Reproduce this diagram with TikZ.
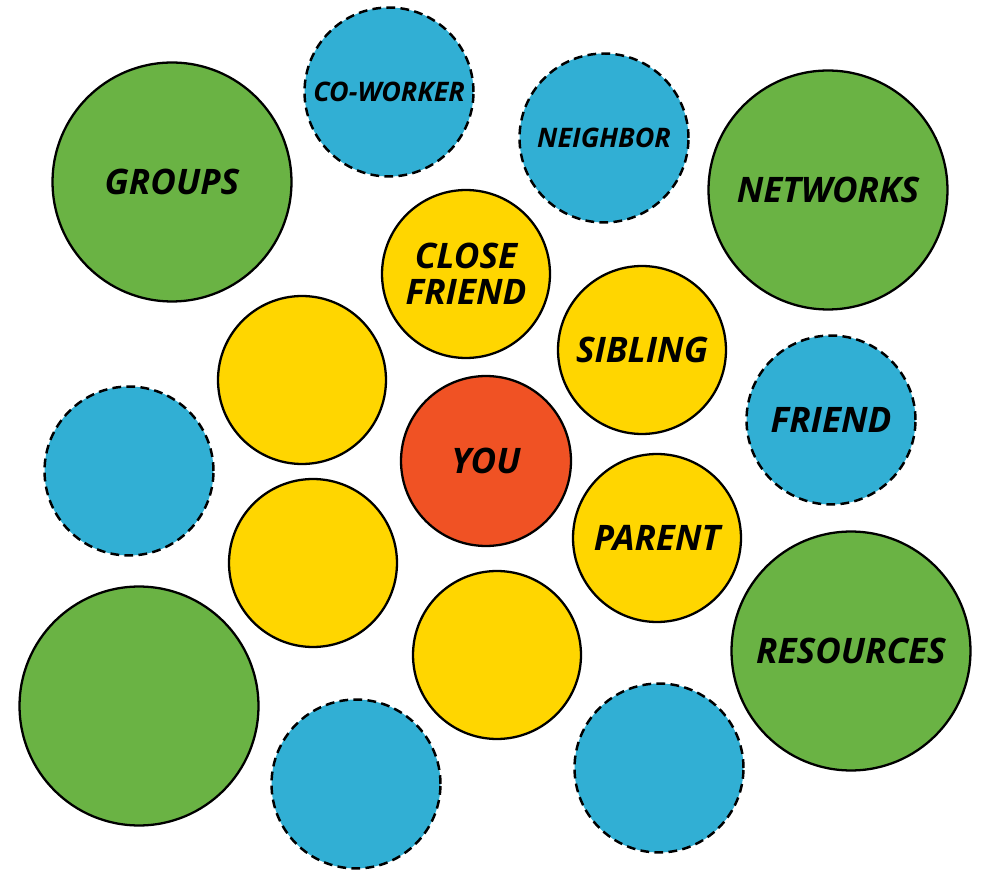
\documentclass[tikz,border=0pt]{standalone}
\usepackage{fontspec}
\setmainfont{Open Sans}
\usepackage{tikz}
\usepackage{xcolor}
\definecolor{youred}{HTML}{F05224}
\definecolor{closeyellow}{HTML}{FFD600}
\definecolor{groupgreen}{HTML}{6AB344}
\definecolor{outerblue}{HTML}{31AFD4}

\begin{document}
\begin{tikzpicture}[x=0.02cm,y=-0.02cm,
	circ/.style={circle, draw=black, line width=1.3pt, inner sep=0, align=center, font=\bfseries\itshape\fontsize{20}{20.5}\selectfont},
	you/.style={circ, fill=youred, minimum size=3.4cm},
	inner/.style={circ, fill=closeyellow, minimum size=3.36cm},
	group/.style={circ, fill=groupgreen, minimum size=4.78cm},
	outer/.style={circ, fill=outerblue, minimum size=3.38cm, line width=1.4pt, dash pattern=on 5pt off 3pt},
	small/.style={font=\bfseries\itshape\fontsize{15.3}{16}\selectfont}]

		\useasboundingbox (0,0) rectangle (981,871);

		%center
		\node[you] at (486,461) (you) {YOU};
		%inner ring
		\node[inner] at (466,274) (close) {CLOSE\\FRIEND};
		\node[inner] at (642,350) (sibling) {SIBLING};
		\node[inner] at (657,538) (parent) {PARENT};
		\node[inner] at (497,655) (in1) {};
		\node[inner] at (313,563) (in2) {};
		\node[inner] at (302,380) (in3) {};
		%groups
		\node[group] at (172,182) (groups) {GROUPS};
		\node[group] at (828,190) (networks) {NETWORKS};
		\node[group] at (851,651) (resources) {RESOURCES};
		\node[group] at (139,706) (gr1) {};
		%outer ring
		\node[outer,small] at (389,92) (coworker) {CO-WORKER};
		\node[outer,small] at (604,138) (neighbor) {NEIGHBOR};
		\node[outer] at (831,420) (friend) {FRIEND};
		\node[outer] at (129,471) (out1) {};
		\node[outer] at (356,784) (out2) {};
		\node[outer] at (659,768) (out3) {};
	\end{tikzpicture}
\end{document}
